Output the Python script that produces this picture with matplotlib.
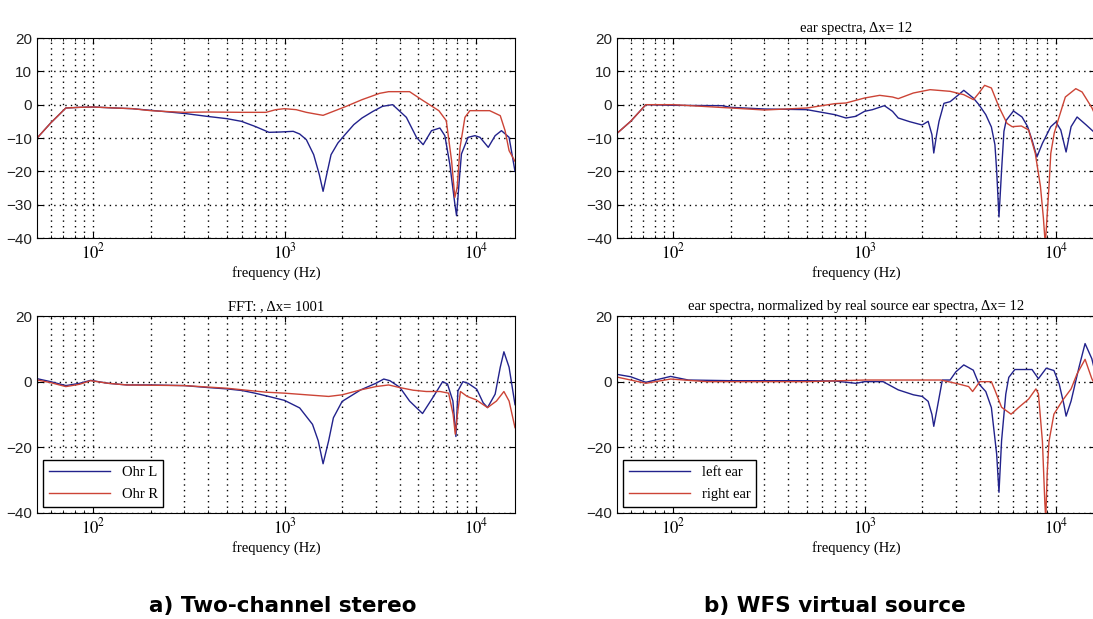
import numpy as np
import matplotlib.pyplot as plt
from matplotlib.ticker import LogLocator, FixedLocator, NullFormatter

plt.switch_backend('agg')

plt.rcParams['mathtext.fontset'] = 'stix'

# a) two-channel stereo, ear spectra (no title)
tl_f_L = [51, 60, 72, 85, 100, 130, 160, 200, 250, 306, 393, 500, 595, 700, 830, 950, 1110, 1200, 1300, 1420,
          1520, 1590, 1660, 1750, 1900, 2070, 2300, 2540, 2900, 3250, 3670, 4330, 4890, 5300, 5860, 6480, 6880,
          7300, 7760, 7920, 8180, 8400, 9100, 9880, 10500, 11600, 12600, 13600, 14900, 16000]
tl_L = [-10, -5.5, -1, -0.8, -0.7, -1.0, -1.2, -1.7, -2.2, -2.7, -3.5, -4.2, -5, -6.5, -8.3, -8.2, -8.0, -8.8, -10.5, -15,
        -21, -26, -21, -15, -11.5, -9, -6, -4, -2, -0.5, 0, -3.8, -9.8, -12, -7.8, -7, -9.3,
        -17.8, -29.8, -33.3, -22.8, -14.8, -9.8, -9.3, -9.8, -12.8, -9.3, -7.8, -9.8, -20]
tl_f_R = [51, 60, 72, 85, 100, 130, 160, 200, 250, 300, 400, 600, 800, 900, 1000, 1150, 1300, 1450, 1590, 1800,
          2100, 2540, 3140, 3500, 4500, 5300, 6400, 7000, 7460, 7760, 7980, 8260, 8760, 9300, 11800, 13400,
          14200, 14900, 16000]
tl_R = [-10, -5.5, -1, -0.8, -0.7, -1.0, -1.2, -1.8, -2.1, -2.3, -2.2, -2.3, -2.3, -1.5, -1.2, -1.5, -2.3, -2.8, -3.2, -2,
        -0.5, 1.5, 3.4, 3.9, 3.9, 1.2, -1.8, -4.8, -16.8, -27.8, -24.8, -12.8, -3.8, -1.8, -1.8, -3.3,
        -7.8, -13.8, -17]

# b) WFS virtual source, ear spectra
tr_f_L = [50, 60, 72, 100, 180, 200, 300, 500, 700, 800, 900, 1000, 1100, 1270, 1400, 1500, 1720, 2000, 2150,
          2250, 2300, 2380, 2450, 2600, 2800, 3000, 3300, 3700, 3960, 4300, 4600, 4800, 4900, 5040, 5200, 5350,
          5500, 6000, 6650, 7100, 7500, 7950, 8500, 9400, 10000, 10600, 11300, 12000, 12900, 14400, 16000]
tr_L = [-9, -5, 0, -0.2, -0.3, -0.8, -1.3, -1.5, -3, -4, -3.5, -2, -1.5, -0.3, -2, -4, -5.1, -6.1, -5,
        -9, -14.5, -9, -5, 0.4, 0.9, 2.3, 4.3, 2, 0, -3, -6.7, -12, -19.7, -33.7, -19.7, -8,
        -4.7, -1.9, -3.7, -6.5, -10.6, -15.7, -11.6, -6.6, -5.2, -7.6, -14.2, -6.6, -3.7, -6.1, -8.5]
tr_f_R = [50, 60, 72, 100, 200, 300, 500, 700, 800, 1000, 1200, 1400, 1500, 1800, 2200, 2800, 3300, 3710, 3960,
          4240, 4600, 5040, 5550, 5900, 6600, 7200, 7800, 8300, 8600, 8800, 9000, 9200, 9400, 9800, 10400,
          11200, 12700, 13700, 15400, 16000]
tr_R = [-9, -5, 0, 0, -1, -1.6, -1, 0.3, 0.5, 2, 2.8, 2.3, 1.8, 3.5, 4.5, 4, 3, 1.5, 3.5,
        5.8, 5, -0.7, -5.6, -6.6, -6.4, -7.6, -14.6, -24.5, -34, -42, -33, -24.5, -14.6, -8.5, -3.6,
        2.3, 4.8, 3.8, -0.9, -3]

# a) two-channel stereo, FFT
bl_f_L = [51, 60, 72, 85, 97, 120, 150, 200, 300, 400, 500, 600, 700, 800, 1000, 1200, 1400, 1500, 1590, 1700,
          1800, 2000, 2500, 3000, 3300, 3550, 4000, 4500, 5260, 5960, 6700, 7100, 7580, 7860, 8050, 8550, 9100,
          10100, 10900, 11500, 12600, 13400, 14000, 14900, 16000]
bl_L = [0.9, 0, -1.2, -0.5, 0.4, -0.5, -1, -1, -1.2, -1.8, -2.2, -2.7, -3.5, -4.3, -5.7, -8, -13, -18, -25, -18,
        -11, -6, -2.5, -0.5, 0.8, 0.3, -1.7, -5.9, -9.7, -4.8, 0, -0.7, -5.9, -16.7, -2.8, 0, -0.5,
        -2.3, -6.4, -7.9, -3.8, 4.4, 9.1, 4.4, -7]
bl_f_R = [51, 60, 72, 85, 97, 120, 150, 300, 500, 800, 1000, 1300, 1700, 2000, 2500, 3000, 3500, 4000, 4700,
          5500, 6500, 7200, 7600, 7800, 8000, 8300, 9000, 10000, 11500, 12800, 14000, 14900, 16000]
bl_R = [0.5, -0.3, -1.5, -0.8, 0.3, -0.5, -1, -1.2, -2, -3.2, -3.5, -4, -4.5, -4, -2.5, -1.5, -1, -1.8, -2.6,
        -3, -3, -3.5, -10, -16, -10, -3, -4.5, -5.5, -7.9, -5.9, -3, -5.9, -14]

# b) WFS virtual source, normalized by real source
br_f_L = [50, 60, 72, 85, 97, 120, 200, 500, 700, 900, 1000, 1250, 1500, 1800, 2000, 2150, 2250, 2300, 2380,
          2450, 2550, 2800, 3000, 3300, 3700, 3960, 4300, 4600, 4900, 5040, 5200, 5470, 5670, 6100, 7500, 8100,
          8900, 9760, 10400, 11000, 11300, 12000, 13200, 14200, 15400, 16000]
br_L = [2.3, 1.5, -0.2, 0.8, 1.6, 0.5, 0.3, 0.3, 0.2, -0.5, 0, 0, -2.5, -4, -4.5, -6, -10, -13.6, -9,
        -5, 0.5, 0.5, 3, 5.1, 3.5, -0.7, -3, -7.9, -22, -33.7, -18, -3.8, 1.3, 3.7, 3.7, 0.9,
        4.1, 3.4, -0.7, -6.9, -10.5, -5.9, 4.4, 11.6, 7, 3]
br_f_R = [50, 60, 72, 97, 150, 500, 1000, 2000, 2500, 3000, 3500, 3670, 4000, 4600, 4800, 5200, 5830, 6400, 7200,
          7860, 8100, 8500, 8750, 8850, 9000, 9200, 9760, 10800, 12000, 12900, 14200, 15400, 16000]
br_R = [1.5, 0.5, -0.5, 0.8, 0, 0, 0.5, 0.5, 0.5, -0.5, -1.5, -3, 0, 0, -2.6, -7.8, -9.9, -7.8, -5.3,
        -2.2, -3.7, -18.2, -36.8, -42, -28, -18.2, -9.9, -5.8, -2.2, 2.4, 6.8, 0.9, -1]

blue = '#22228c'
red = '#cc4436'
serif = 'Liberation Serif'
dots = (0, (1, 3))


def plot_panel(ax, fL, vL, fR, vR, yticks, title=None, labels=None):
    lL, = ax.semilogx(fL, vL, color=blue, lw=1.0)
    lR, = ax.semilogx(fR, vR, color=red, lw=1.0)
    ax.set_xlim(50.9, 16000)
    ax.set_ylim(-40, 20)
    ax.xaxis.set_major_locator(FixedLocator([100, 1000, 10000]))
    ax.set_xticklabels(['$10^{2}$', '$10^{3}$', '$10^{4}$'], fontsize=12)
    ax.xaxis.set_minor_locator(LogLocator(base=10, subs=np.arange(2, 10)))
    ax.xaxis.set_minor_formatter(NullFormatter())
    ax.set_yticks(yticks)
    for lab in ax.get_yticklabels():
        lab.set_fontfamily('Liberation Sans')
        lab.set_fontsize(11)
        lab.set_color('#222222')
    ax.tick_params(which='both', direction='in', top=True, right=True, length=4)
    ax.tick_params(which='minor', length=2)
    ax.grid(True, which='both', axis='x', color='black', linestyle=dots, lw=1.0)
    ax.grid(True, which='major', axis='y', color='black', linestyle=dots, lw=1.0)
    ax.set_xlabel('frequency (Hz)', family=serif, fontsize=10.5, labelpad=2)
    if title:
        ax.set_title(title, family=serif, fontsize=10.5, pad=4)
    if labels:
        leg = ax.legend([lL, lR], labels, loc='lower left', prop={'family': serif, 'size': 10.5},
                        fancybox=False, edgecolor='black', framealpha=1, handlelength=4.2,
                        labelspacing=0.6, borderaxespad=0.4)
        leg.get_frame().set_linewidth(1.0)


fig = plt.figure(figsize=(10.93, 6.19), dpi=100)
W, H = 1093.0, 619.0
ax_tl = fig.add_axes([37 / W, 1 - 238 / H, 478 / W, 200 / H])
ax_tr = fig.add_axes([617 / W, 1 - 238 / H, 478 / W, 200 / H])
ax_bl = fig.add_axes([37 / W, 1 - 513 / H, 478 / W, 197 / H])
ax_br = fig.add_axes([617 / W, 1 - 513 / H, 478 / W, 197 / H])

plot_panel(ax_tl, tl_f_L, tl_L, tl_f_R, tl_R, [-40, -30, -20, -10, 0, 10, 20])
plot_panel(ax_tr, tr_f_L, tr_L, tr_f_R, tr_R, [-40, -30, -20, -10, 0, 10, 20], title='ear spectra, Δx= 12')
plot_panel(ax_bl, bl_f_L, bl_L, bl_f_R, bl_R, [-40, -20, 0, 20], title='FFT: , Δx= 1001',
           labels=['Ohr L', 'Ohr R'])
plot_panel(ax_br, br_f_L, br_L, br_f_R, br_R, [-40, -20, 0, 20],
           title='ear spectra, normalized by real source ear spectra, Δx= 12', labels=['left ear', 'right ear'])

# captions
fig.text(283 / W, 1 - 606 / H, 'a) Two-channel stereo', ha='center', va='center', fontsize=15.5,
         fontweight='bold', family='DejaVu Sans')
fig.text(835 / W, 1 - 606 / H, 'b) WFS virtual source', ha='center', va='center', fontsize=15.5,
         fontweight='bold', family='DejaVu Sans')

plt.savefig('out.png', dpi=100)
